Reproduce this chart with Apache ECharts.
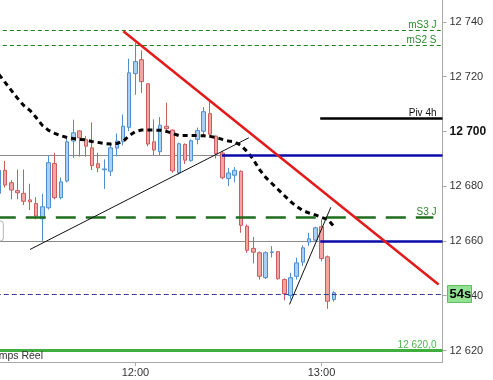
<!DOCTYPE html>
<html><head><meta charset="utf-8">
<script src="https://cdn.jsdelivr.net/npm/echarts@6/dist/echarts.min.js"></script>
<style>html,body{margin:0;padding:0;background:#fff;overflow:hidden}#c{width:493px;height:380px}</style>
</head><body><div id="c"></div>
<script>
// ---- data ----
const categories = ['11:16','11:18','11:20','11:22','11:24','11:26','11:28','11:30','11:32','11:34',
  '11:36','11:38','11:40','11:42','11:44','11:46','11:48','11:50','11:52','11:54',
  '11:56','11:58','12:00','12:02','12:04','12:06','12:08','12:10','12:12','12:14',
  '12:16','12:18','12:20','12:22','12:24','12:26','12:28','12:30','12:32','12:34',
  '12:36','12:38','12:40','12:42','12:44','12:46','12:48','12:50','12:52','12:54',
  '12:56','12:58','13:00','13:02','13:04','13:06','13:08','13:10','13:12','13:14',
  '13:16','13:18','13:20','13:22','13:24','13:26','13:28','13:30','13:32','13:34',
  '13:36','13:38'];
const xTickLabels = ['12:00','13:00'];
const yTicks = [12620,12640,12660,12680,12700,12720,12740];

const opens  = [12677.4,12685.8,12681.3,12678.4,12677.4,12675.0,12673.7,12668.1,12672.1,12688.3,
  12675.8,12681.9,12696.5,12700.2,12697.0,12694.0,12688.2,12686.0,12685.5,12693.9,
  12696.3,12701.5,12721.1,12726.2,12717.4,12696.2,12692.6,12701.9,12700.5,12684.9,
  12695.3,12689.3,12697.1,12700.1,12706.5,12698.3,12692.1,12682.8,12684.0,12685.4,
  12665.4,12657.3,12655.7,12646.6,12655.8,12656.1,12645.9,12640.1,12647.1,12652.3,
  12659.6,12660.3,12665.2,12654.2,12638.6];
const closes = [12685.8,12680.4,12678.6,12677.6,12674.5,12674.3,12669.1,12672.5,12688.6,12675.8,
  12681.6,12696.2,12699.5,12697.7,12694.6,12687.5,12686.7,12686.3,12694.0,12696.5,
  12701.9,12721.4,12725.5,12718.2,12695.4,12693.2,12702.3,12701.0,12685.6,12695.5,
  12689.5,12696.6,12700.3,12707.2,12699.0,12691.8,12683.1,12684.8,12685.8,12665.7,
  12656.6,12655.9,12647.1,12655.7,12656.0,12646.2,12640.8,12646.6,12652.0,12657.5,
  12660.8,12664.8,12653.6,12638.0,12641.1];
const lows   = [12676.3,12679.5,12675.2,12675.2,12673.1,12671.3,12667.9,12659.9,12671.5,12675.2,
  12675.2,12681.4,12690.3,12690.8,12690.8,12685.9,12685.1,12679.0,12683.7,12690.9,
  12694.9,12700.1,12713.4,12714.0,12694.6,12691.2,12691.2,12700.1,12684.9,12684.3,
  12688.1,12689.0,12695.3,12698.3,12697.7,12690.1,12682.5,12680.0,12681.4,12663.0,
  12655.7,12651.8,12645.9,12646.1,12654.0,12645.9,12638.3,12638.6,12645.9,12650.8,
  12658.1,12659.9,12652.6,12635.2,12637.8];
const highs  = [12687.0,12689.2,12682.2,12686.1,12686.1,12680.9,12676.0,12677.2,12691.0,12692.2,
  12683.2,12697.3,12704.3,12700.4,12698.3,12703.3,12692.2,12689.8,12695.9,12699.3,
  12706.2,12726.6,12732.3,12729.6,12717.6,12704.4,12705.2,12710.5,12700.7,12695.9,
  12695.6,12697.1,12701.4,12708.9,12711.7,12698.5,12692.8,12686.7,12687.0,12685.8,
  12666.0,12661.5,12656.2,12656.2,12658.1,12656.3,12646.3,12648.4,12653.9,12658.4,
  12663.0,12665.2,12667.9,12654.7,12641.7];
const maValues = [12720.8,12717.9,12715.0,12712.1,12709.5,12707.7,12705.1,12702.2,12700.4,12699.3,
  12698.4,12697.8,12697.4,12697.1,12696.9,12696.3,12696.0,12695.6,12695.4,12695.6,
  12696.3,12698.5,12700.0,12700.5,12700.5,12700.5,12700.4,12700.0,12699.3,12698.5,
  12698.5,12698.5,12698.5,12698.4,12698.2,12697.8,12697.1,12696.5,12696.2,12694.9,
  12692.7,12689.8,12686.1,12683.2,12681.0,12678.8,12676.6,12674.4,12672.6,12671.1,
  12670.2,12669.5,12668.6,12667.9,12665.3];

// horizontal levels
const levelMS3J = 12736.8;
const levelMS2S = 12731.3;
const levelPiv4h = 12704.9;
const levelUpper = 12691.3;
const levelS3J = 12668.7;
const levelLower = 12660.0;
const levelLast = 12640.7;
const levelGreen = 12620.0;
// trend lines [index, price]
const redTrend = [[20.06, 12736.6], [70.87, 12644.1]];
const blackTrend1 = [[5.02, 12656.9], [40.29, 12697.7]];
const blackTrend2 = [[46.84, 12636.8], [53.5, 12672.3]];
// level start / end indices
const blueUpperStart = 35.94;
const blueLowerStart = 51.79;
const pivStart = 51.79;
const s3jEnd = 70.02;

// ---- chart ----
const FONT = "'Liberation Sans', Arial, sans-serif";
const X0 = -0.5, X1 = 71.5;
function fmtPrice(v){ return String(Math.round(v)).replace(/(\d)(?=(\d{3})+$)/, '$1 '); }
function seg(a, b, style, label){
  return [{coord: a, lineStyle: style, label: label || {show:false}}, {coord: b}];
}
function lbl(text, color){
  return {show:true, position:'insideEndTop', formatter:text, color:color, fontSize:10,
          fontFamily:FONT, distance:[6,0]};
}
const candleData = opens.map((o,i)=>[o, closes[i], lows[i], highs[i]]);

const chart = echarts.init(document.getElementById('c'), null, {renderer:'canvas'});
chart.setOption({
  animation:false,
  backgroundColor:'#ffffff',
  grid:{left:-4.2, right:50.5, top:0, bottom:18, containLabel:false, outerBoundsMode:'none'},
  xAxis:[{
    type:'category', data:categories, boundaryGap:true,
    axisLine:{show:true, onZero:false, lineStyle:{color:'#a8a8a8', width:1}},
    axisTick:{show:true, length:4, lineStyle:{color:'#a8a8a8'}, alignWithLabel:true,
      interval:(i)=>xTickLabels.indexOf(categories[i])>=0},
    axisLabel:{interval:(i)=>xTickLabels.indexOf(categories[i])>=0, color:'#333', fontSize:11,
      fontFamily:FONT, margin:5},
    splitLine:{show:false}
  },{
    type:'value', min:X0, max:X1, show:false
  }],
  yAxis:{
    type:'value', position:'right', min:12615.8, max:12748.0, scale:true,
    axisLine:{show:true, onZero:false, lineStyle:{color:'#a8a8a8', width:1}},
    axisTick:{show:true, length:4, lineStyle:{color:'#a8a8a8'}, customValues:yTicks},
    axisLabel:{customValues:yTicks, margin:7, color:'#333', fontSize:11, fontFamily:FONT,
      formatter:(v)=> v===12700 ? '{b|'+fmtPrice(v)+'}' : fmtPrice(v),
      rich:{b:{fontWeight:'bold', fontSize:12, color:'#111', fontFamily:FONT}}},
    splitLine:{show:false}
  },
  series:[
    {
      type:'line', xAxisIndex:1, data:[], z:1, silent:true,
      markLine:{symbol:['none','none'], silent:true, animation:false, z:1,
        data:[
          seg([X0, levelUpper],[blueUpperStart, levelUpper],{color:'#8a8a8a', width:1, type:'solid'}),
          seg([X0, levelLower],[blueLowerStart, levelLower],{color:'#8a8a8a', width:1, type:'solid'})
        ]}
    },
    {
      type:'candlestick', name:'Prix', data:candleData, barWidth:4, z:3,
      itemStyle:{color:'#a9cff3', color0:'#f3a5a5', borderColor:'#4f8fcf', borderColor0:'#cc5c5c', borderWidth:1}
    },
    {
      type:'line', name:'MM', data:maValues, showSymbol:false, symbol:'none', z:4, silent:true,
      lineStyle:{color:'#000', width:3, type:[5,4]}
    },
    {
      type:'line', xAxisIndex:1, data:[], z:5, silent:true,
      markLine:{symbol:['none','none'], silent:true, animation:false, z:5,
        data:[
          seg([X0, levelMS3J],[X1, levelMS3J],{color:'#1f7f1f', width:1, type:[4,3]}, lbl('mS3 J','#2e8b2e')),
          seg([X0, levelMS2S],[X1, levelMS2S],{color:'#1f7f1f', width:1, type:[4,3]}, lbl('mS2 S','#2e8b2e')),
          seg([pivStart, levelPiv4h],[X1, levelPiv4h],{color:'#000', width:2.5, type:'solid'}, lbl('Piv 4h','#111')),
          seg([blueUpperStart, levelUpper],[X1, levelUpper],{color:'#0a0aa8', width:2.5, type:'solid'}),
          seg([blueLowerStart, levelLower],[X1, levelLower],{color:'#0a0aa8', width:2.5, type:'solid'}),
          seg([X0, levelS3J],[s3jEnd, levelS3J],{color:'#1e6e1e', width:2.5, type:[20,10]}),
          seg([X0, levelS3J],[X1, levelS3J],{color:'rgba(0,0,0,0)', width:1, type:'solid'}, lbl('S3 J','#2e7e2e')),
          seg([X0, levelLast],[X1, levelLast],{color:'#3a3a9a', width:1, type:[5,3]}),
          seg([X0, levelGreen],[X1, levelGreen],{color:'#3fae3f', width:3, type:'solid'}, lbl('12 620,0','#4cb84c')),
          seg(redTrend[0], redTrend[1], {color:'#e41a1a', width:2.5, type:'solid'}),
          seg(blackTrend1[0], blackTrend1[1], {color:'#111', width:1, type:'solid'}),
          seg(blackTrend2[0], blackTrend2[1], {color:'#111', width:1, type:'solid'})
        ]}
    }
  ],
  graphic:[
    {type:'rect', z:100, shape:{x:-20, y:221, width:23.3, height:20, r:3},
     style:{fill:'#ffffff', stroke:'#b5b5b5', lineWidth:1}},
    {type:'text', z:100, style:{text:'Temps Réel', x:43, y:356, align:'right', verticalAlign:'middle',
      fill:'#333', font:'10.5px '+FONT}},
    {type:'rect', z:100, shape:{x:447.5, y:285.5, width:24, height:17},
     style:{fill:'#93e293', stroke:'#62bd62', lineWidth:1}},
    {type:'text', z:101, style:{text:'54s', x:449.5, y:294.3, align:'left', verticalAlign:'middle',
      fill:'#000', font:'bold 13px '+FONT}}
  ]
});
</script></body></html>
